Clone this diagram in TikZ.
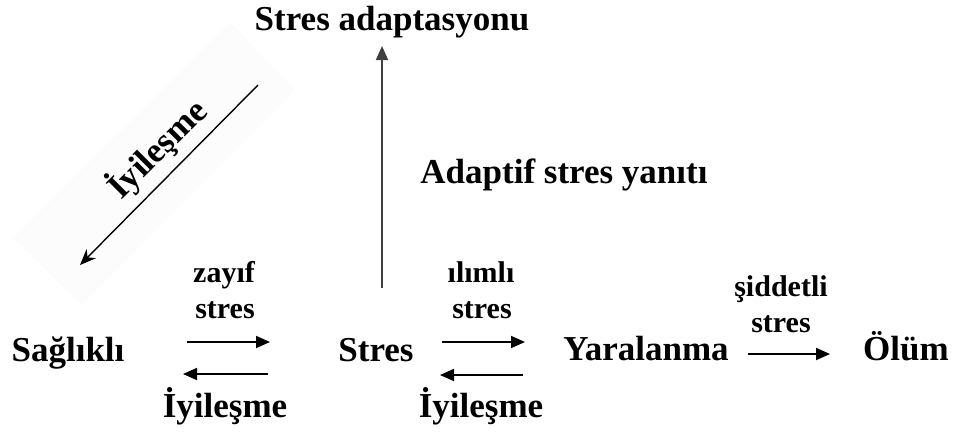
\documentclass[tikz,border=0pt]{standalone}
\usepackage{fontspec}
\setmainfont{Liberation Serif}
\usepackage{tikz}
\usetikzlibrary{arrows.meta}

\tikzset{
  big/.style={font=\bfseries\fontsize{35}{38}\selectfont, inner sep=0pt, anchor=base},
  small/.style={font=\bfseries\fontsize{30}{33}\selectfont, inner sep=0pt, anchor=base},
  arr/.style={line width=1.8pt, -{Triangle[length=14pt,width=12pt]}},
}

\begin{document}
\begin{tikzpicture}[x=1pt,y=-1pt]
    \useasboundingbox (0,0) rectangle (954,432);

    %faint band behind the diagonal
    \fill[black!1.2] (230,22) -- (295,90) -- (82,305) -- (13,238) -- cycle;

    %states
    \node[big] (saglik) at (68,361) {Sağlıklı};
    \node[big] (stres) at (376,361) {Stres};
    \node[big] (yara) at (646,360) {Yaralanma};
    \node[big] (olum) at (906,360) {Ölüm};
    \node[big] (adapt) at (392,30) {Stres adaptasyonu};
    \node[big] (yanit) at (564,183) {Adaptif stres yanıtı};

    %labels
    \node[small] (zayif) at (224,282) {zayıf};
    \node[small] (zstres) at (225,318) {stres};
    \node[small] (ilimli) at (481,282) {ılımlı};
    \node[small] (istres) at (482,318) {stres};
    \node[small] (siddet) at (781,296) {şiddetli};
    \node[small] (sstres) at (781,332) {stres};
    \node[big] (iyi1) at (225,417) {İyileşme};
    \node[big] (iyi2) at (481,417) {İyileşme};
    \node[big,rotate=45] (iyi3) at (165,157) {İyileşme};

    %arrow ends
    \coordinate (a1) at (187,342);
    \coordinate (a2) at (270,342);
    \coordinate (b1) at (268,374);
    \coordinate (b2) at (183,374);
    \coordinate (c1) at (442,342);
    \coordinate (c2) at (525,342);
    \coordinate (d1) at (523,375);
    \coordinate (d2) at (440,375);
    \coordinate (e1) at (748,354);
    \coordinate (e2) at (830,354);
    \coordinate (v1) at (382,288);
    \coordinate (v2) at (382,46);
    \coordinate (g1) at (258,85);
    \coordinate (g2) at (80,265);

    \draw[arr] (a1) -- (a2);
    \draw[arr] (b1) -- (b2);
    \draw[arr] (c1) -- (c2);
    \draw[arr] (d1) -- (d2);
    \draw[arr] (e1) -- (e2);
    \draw[arr, draw=black!75] (v1) -- (v2);
    \draw[line width=1.4pt, -{Stealth[length=16pt,width=13pt]}] (g1) -- (g2);

\end{tikzpicture}
\end{document}
